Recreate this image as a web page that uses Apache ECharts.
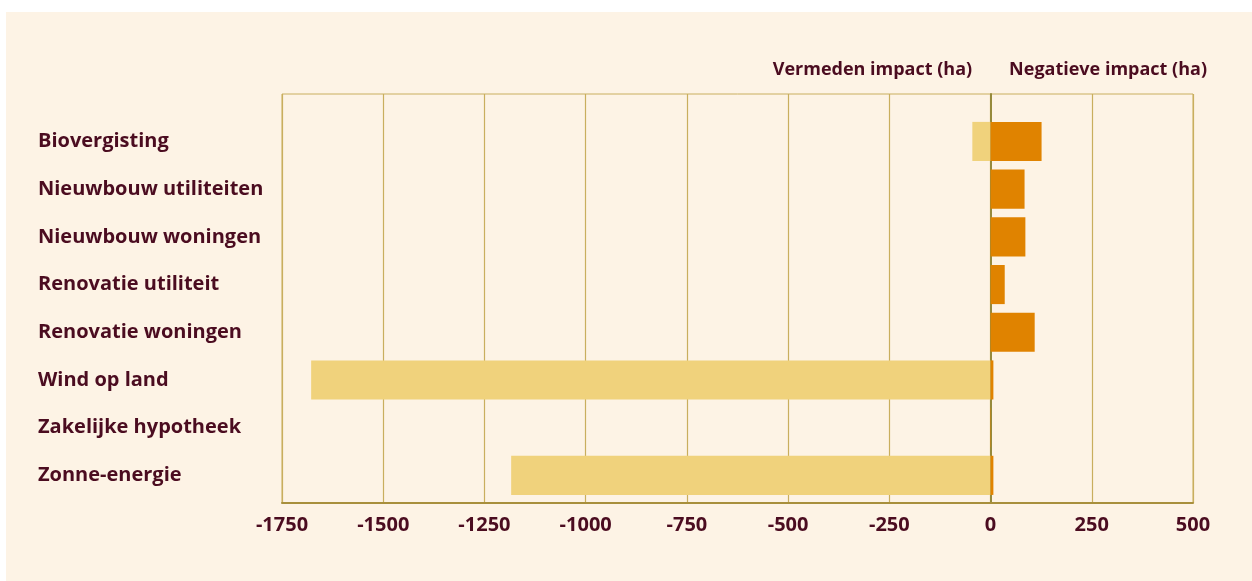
<!DOCTYPE html>
<html>
<head>
<meta charset="UTF-8">
<title>Impact per categorie</title>
<script src="https://cdn.jsdelivr.net/npm/echarts@6/dist/echarts.min.js"></script>
<style>
    html, body { margin: 0; padding: 0; background: #ffffff; }
    #main { position: absolute; left: 6px; top: 12px; width: 1246px; height: 569px; }
</style>
</head>
<body>
<div id="main"></div>
<script>
// categorieen (van boven naar beneden)
var categories = ['Biovergisting', 'Nieuwbouw utiliteiten', 'Nieuwbouw woningen', 'Renovatie utiliteit',
    'Renovatie woningen', 'Wind op land', 'Zakelijke hypotheek', 'Zonne-energie'];
var vermeden = [-45, 0, 0, 0, 0, -1678, 0, -1184];
var negatief = [126, 84, 86, 35, 109, 7, 1, 7];
var xTicks = [-1750, 500, 250];   // min, max, interval

var textColor = '#4b0c20';
var font = 'Open Sans';

var myChart = echarts.init(document.getElementById('main'));

var option = {
    backgroundColor: '#fdf3e5',
    legend: {
        right: 40,
        top: 44,
        icon: 'none',
        itemWidth: 0,
        itemGap: 32,
        selectedMode: false,
        textStyle: { color: textColor, fontFamily: font, fontWeight: 'bold', fontSize: 18 },
        data: ['Vermeden impact (ha)', 'Negatieve impact (ha)']
    },
    grid: [
        // kader met rasterlijnen
        { left: 276, right: 59, top: 82, bottom: 78, show: true, borderWidth: 1, borderColor: '#c9ae5e', backgroundColor: 'transparent' },
        // balken
        { left: 276, right: 59, top: 105.6, bottom: 81.8 }
    ],
    xAxis: [
        {
            gridIndex: 0, type: 'value', min: xTicks[0], max: xTicks[1], interval: xTicks[2],
            axisLine: { show: true, onZero: false, lineStyle: { color: '#a88f3c', width: 2 } },
            axisTick: { show: false },
            splitLine: { show: true, lineStyle: { color: '#c9ae5e', width: 1.2 } },
            axisLabel: {
                color: textColor, fontFamily: font, fontWeight: 'bold', fontSize: 20, margin: 12,
                formatter: function (v) { return String(v); }
            }
        },
        {
            gridIndex: 1, type: 'value', min: xTicks[0], max: xTicks[1], interval: xTicks[2],
            show: false
        }
    ],
    yAxis: [
        {
            gridIndex: 0, type: 'value', min: 0, max: 1,
            axisLine: { show: true, onZero: true, lineStyle: { color: '#968a3c', width: 2 } },
            axisTick: { show: false }, axisLabel: { show: false }, splitLine: { show: false }
        },
        {
            gridIndex: 1, type: 'category', inverse: true, data: categories,
            axisLine: { show: false }, axisTick: { show: false },
            axisLabel: { color: textColor, fontFamily: font, fontWeight: 'bold', fontSize: 20, align: 'left', margin: 244 }
        }
    ],
    series: [
        {
            name: 'Vermeden impact (ha)', type: 'bar', stack: 'impact',
            xAxisIndex: 1, yAxisIndex: 1, barCategoryGap: '18%',
            itemStyle: { color: '#f0d27c' },
            data: vermeden
        },
        {
            name: 'Negatieve impact (ha)', type: 'bar', stack: 'impact',
            xAxisIndex: 1, yAxisIndex: 1, barCategoryGap: '18%',
            itemStyle: { color: '#e08300' },
            data: negatief
        }
    ]
};

myChart.setOption(option);
</script>
</body>
</html>
